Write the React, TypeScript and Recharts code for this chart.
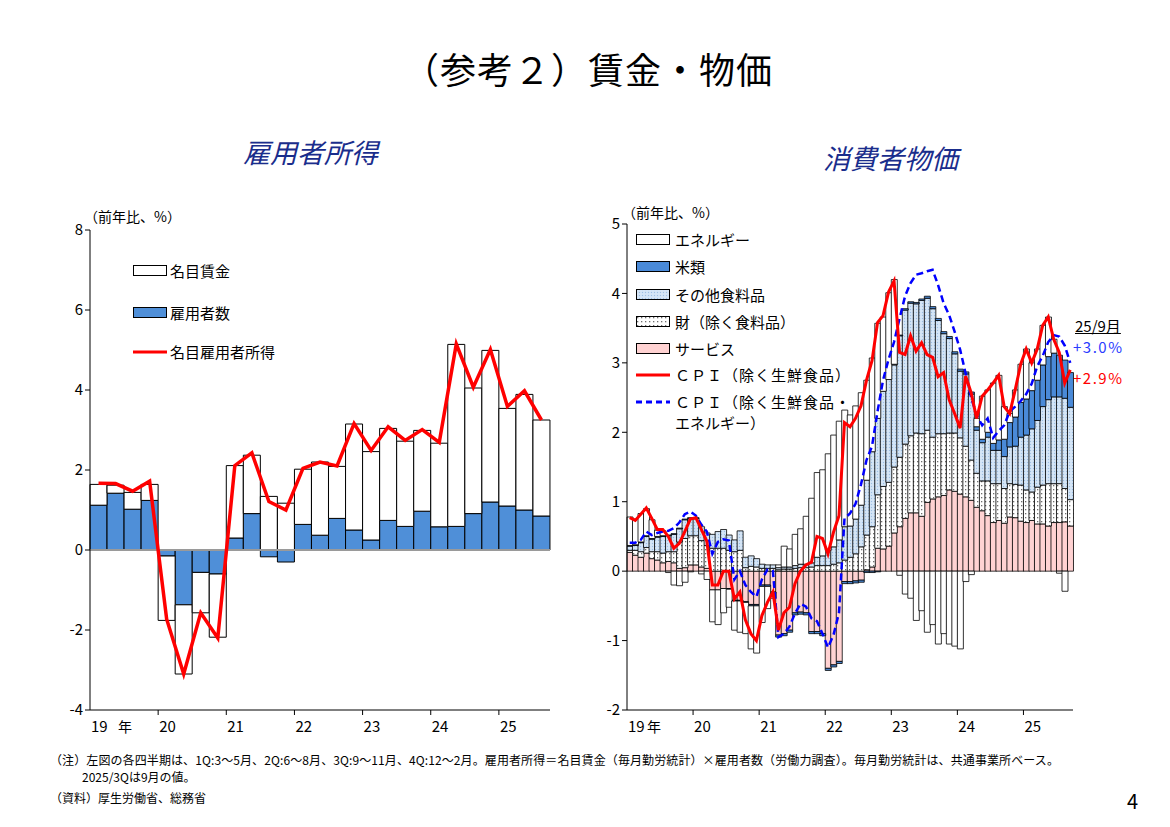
import React from 'react';
import { ComposedChart, Bar, Line, XAxis, YAxis, ReferenceLine } from 'recharts';

const FONT = '"Noto Sans CJK JP", "Noto Sans", sans-serif';

// ---------- 雇用者所得 (quarterly) ----------
const quarters = [
  '19/1Q', '19/2Q', '19/3Q', '19/4Q',
  '20/1Q', '20/2Q', '20/3Q', '20/4Q',
  '21/1Q', '21/2Q', '21/3Q', '21/4Q',
  '22/1Q', '22/2Q', '22/3Q', '22/4Q',
  '23/1Q', '23/2Q', '23/3Q', '23/4Q',
  '24/1Q', '24/2Q', '24/3Q', '24/4Q',
  '25/1Q', '25/2Q', '25/3Q',
];
// 雇用者数
const employees = [
  1.12, 1.42, 1.02, 1.24, -0.15, -1.37, -0.56, -0.6, 0.3, 0.91, -0.17, -0.3, 0.64, 0.37,
  0.79, 0.5, 0.25, 0.74, 0.59, 0.97, 0.58, 0.59, 0.91, 1.2, 1.1, 1.0, 0.85,
];
// 名目賃金
const wages = [
  0.52, 0.2, 0.42, 0.4, -1.61, -1.73, -1.01, -1.58, 1.81, 1.46, 1.34, 1.17, 1.38, 1.83,
  1.3, 2.65, 2.21, 2.3, 2.13, 2.02, 2.09, 4.55, 3.14, 3.79, 2.44, 2.89, 2.4,
];
// 名目雇用者所得
const income = [
  1.67, 1.66, 1.47, 1.72, -1.73, -3.1, -1.57, -2.2, 2.11, 2.43, 1.21, 1.0, 2.04, 2.2,
  2.1, 3.16, 2.49, 3.08, 2.74, 3.01, 2.69, 5.15, 4.07, 5.01, 3.59, 3.98, 3.25,
];
const leftTicks = [-4, -2, 0, 2, 4, 6, 8];

// ---------- 消費者物価 (monthly) ----------
const months = [
  '19/01', '19/02', '19/03', '19/04', '19/05', '19/06', '19/07', '19/08', '19/09', '19/10', '19/11', '19/12',
  '20/01', '20/02', '20/03', '20/04', '20/05', '20/06', '20/07', '20/08', '20/09', '20/10', '20/11', '20/12',
  '21/01', '21/02', '21/03', '21/04', '21/05', '21/06', '21/07', '21/08', '21/09', '21/10', '21/11', '21/12',
  '22/01', '22/02', '22/03', '22/04', '22/05', '22/06', '22/07', '22/08', '22/09', '22/10', '22/11', '22/12',
  '23/01', '23/02', '23/03', '23/04', '23/05', '23/06', '23/07', '23/08', '23/09', '23/10', '23/11', '23/12',
  '24/01', '24/02', '24/03', '24/04', '24/05', '24/06', '24/07', '24/08', '24/09', '24/10', '24/11', '24/12',
  '25/01', '25/02', '25/03', '25/04', '25/05', '25/06', '25/07', '25/08', '25/09',
];
// サービス
const services = [
  0.27, 0.23, 0.2, 0.26, 0.18, 0.16, 0.12, 0.14, 0.12, 0.04, 0.05, 0.09,
  0.09, 0.06, 0.04, -0.27, -0.27, -0.25, -0.25, -0.42, -0.42, -0.44, -0.48, -0.48,
  -0.2, -0.2, -0.3, -0.92, -0.9, -0.85, -0.6, -0.59, -0.6, -0.87, -0.87, -0.9,
  -1.4, -1.35, -1.3, -0.15, -0.15, -0.14, -0.13, 0.02, 0.06, 0.33, 0.32, 0.36,
  0.55, 0.64, 0.76, 0.84, 0.84, 0.79, 0.99, 1.04, 1.07, 1.09, 1.17, 1.15,
  1.11, 1.07, 1.02, 0.92, 0.87, 0.8, 0.7, 0.73, 0.69, 0.78, 0.77, 0.72,
  0.7, 0.73, 0.68, 0.68, 0.65, 0.7, 0.7, 0.71, 0.65,
];
// 財（除く食料品）
const goods = [
  0.03, 0.07, 0.08, 0.08, 0.1, 0.12, 0.14, 0.14, 0.16, 0.38, 0.42, 0.42,
  0.42, 0.38, 0.33, 0.33, 0.33, 0.33, 0.3, 0.28, 0.3, 0.05, 0.07, 0.06,
  0.04, 0.04, 0.04, 0.02, 0.03, 0.03, 0.04, 0.05, 0.05, 0.06, 0.08, 0.08,
  0.08, 0.1, 0.12, 0.16, 0.2, 0.25, 0.35, 0.5, 0.58, 0.77, 0.9, 0.92,
  0.95, 1.0, 1.07, 1.11, 1.15, 1.19, 1.04, 0.89, 0.91, 0.89, 0.82, 0.84,
  0.81, 0.73, 0.58, 0.49, 0.43, 0.5, 0.56, 0.53, 0.5, 0.48, 0.48, 0.52,
  0.47, 0.41, 0.53, 0.56, 0.61, 0.56, 0.56, 0.48, 0.38,
];
// その他食料品
const otherFood = [
  0.06, 0.07, 0.13, 0.16, 0.18, 0.21, 0.24, 0.23, 0.25, 0.19, 0.27, 0.25,
  0.25, 0.2, 0.18, 0.2, 0.24, 0.27, 0.22, 0.17, 0.28, 0.15, 0.15, 0.12,
  0.06, 0.05, 0.05, 0.03, 0.03, 0.03, 0.04, 0.05, 0.05, 0.06, 0.12, 0.14,
  0.22, 0.25, 0.33, 0.48, 0.45, 0.5, 0.6, 0.79, 1.08, 1.1, 1.37, 1.48,
  1.47, 1.75, 1.93, 1.91, 1.86, 1.92, 1.9, 1.85, 1.63, 1.44, 1.36, 1.14,
  0.96, 1.04, 0.95, 0.62, 0.55, 0.63, 0.48, 0.48, 0.46, 0.53, 0.55, 0.69,
  0.79, 0.91, 0.96, 1.13, 1.21, 1.25, 1.25, 1.3, 1.33,
];
// 米類
const rice = [
  0.01, 0.01, 0.01, 0.01, 0.01, 0.01, 0.01, 0.01, 0.01, 0.01, 0.01, 0.01,
  0.01, 0, 0, 0, 0, 0, -0.01, -0.01, -0.01, -0.01, -0.02, -0.02,
  -0.02, -0.02, -0.02, -0.03, -0.03, -0.03, -0.03, -0.03, -0.03, -0.03, -0.03, -0.03,
  -0.03, -0.03, -0.03, -0.03, -0.03, -0.03, -0.03, -0.02, -0.02, -0.01, 0, 0,
  0.01, 0.01, 0.02, 0.02, 0.02, 0.02, 0.03, 0.03, 0.03, 0.03, 0.03, 0.03,
  0.03, 0.03, 0.03, 0.05, 0.05, 0.07, 0.1, 0.15, 0.25, 0.35, 0.42, 0.5,
  0.52, 0.55, 0.58, 0.6, 0.62, 0.63, 0.6, 0.55, 0.5,
];
// エネルギー
const energy = [
  0.41, 0.37, 0.41, 0.39, 0.27, 0.09, 0.07, -0.02, -0.2, -0.21, -0.16, -0.01,
  0.0, -0.04, -0.12, -0.46, -0.5, -0.35, -0.26, -0.42, -0.45, -0.45, -0.62, -0.68,
  -0.52, -0.32, -0.07, 0.04, 0.3, 0.26, 0.45, 0.51, 0.69, 0.93, 1.22, 1.24,
  1.39, 1.61, 1.71, 1.68, 1.6, 1.63, 1.62, 1.44, 1.35, 1.37, 1.07, 1.25,
  1.22, -0.06, -0.33, -0.39, -0.71, -0.57, -0.88, -0.77, -1.05, -0.9, -1.05, -1.08,
  -1.12, -0.15, -0.05, 0.12, 0.62, 0.61, 0.87, 0.93, 0.47, 0.13, 0.39, 0.55,
  0.72, 0.4, 0.45, 0.57, 0.57, 0.2, -0.03, -0.29, 0.0,
];
// ＣＰＩ（除く生鮮食品）
const cpiCore = [
  0.77, 0.73, 0.82, 0.91, 0.76, 0.6, 0.6, 0.5, 0.33, 0.4, 0.57, 0.75,
  0.77, 0.6, 0.43, -0.2, -0.2, 0.0, 0.0, -0.4, -0.3, -0.7, -0.9, -1.0,
  -0.64, -0.45, -0.3, -0.85, -0.6, -0.52, -0.18, 0.0, 0.09, 0.13, 0.5, 0.47,
  0.25, 0.56, 0.8, 2.14, 2.08, 2.2, 2.38, 2.75, 3.03, 3.58, 3.68, 4.02,
  4.18, 3.15, 3.12, 3.39, 3.17, 3.29, 3.12, 3.08, 2.8, 2.86, 2.47, 2.27,
  2.06, 2.81, 2.57, 2.2, 2.52, 2.61, 2.71, 2.82, 2.37, 2.27, 2.61, 2.98,
  3.2, 3.0, 3.2, 3.54, 3.66, 3.34, 3.15, 2.71, 2.9,
];
// ＣＰＩ（除く生鮮食品・エネルギー）
const cpiCoreCore = [
  0.41, 0.41, 0.45, 0.57, 0.52, 0.55, 0.57, 0.58, 0.62, 0.7, 0.82, 0.86,
  0.8, 0.67, 0.57, 0.25, 0.42, 0.46, 0.44, -0.12, 0.0, -0.2, -0.3, -0.37,
  -0.12, 0.02, 0.0, -0.95, -0.9, -0.8, -0.61, -0.47, -0.51, -0.68, -0.72, -0.9,
  -1.1, -0.92, -0.6, 0.76, 0.83, 0.97, 1.25, 1.6, 1.8, 2.3, 2.75, 3.05,
  3.3, 3.64, 3.96, 4.15, 4.27, 4.29, 4.32, 4.34, 4.12, 3.86, 3.69, 3.45,
  3.19, 2.85, 2.5, 2.25, 2.1, 2.2, 1.92, 2.02, 2.1, 2.3, 2.37, 2.45,
  2.55, 2.7, 2.95, 3.1, 3.3, 3.4, 3.38, 3.25, 3.0,
];
const rightTicks = [-2, -1, 0, 1, 2, 3, 4, 5];

const incomeData = quarters.map((q, i) => ({
  q,
  employees: employees[i],
  wages: wages[i],
  income: income[i],
}));

const cpiData = months.map((m, i) => ({
  m,
  services: services[i],
  goods: goods[i],
  otherFood: otherFood[i],
  rice: rice[i],
  energy: energy[i],
  cpiCore: cpiCore[i],
  cpiCoreCore: cpiCoreCore[i],
}));

const makeYearTick = (isStart: (v: string) => boolean, bandHalf: number, nenGap: number) =>
  (props: any) => {
    const { x, y, payload, index } = props;
    const label: string = payload.value;
    if (!isStart(label)) return <g />;
    const half = payload.offset != null ? payload.offset : bandHalf;
    const bx = x - half;
    const yr = label.slice(0, 2);
    return (
      <g>
        {index !== 0 && <line x1={bx} x2={bx} y1={y} y2={y + 5} stroke="#000" strokeWidth={1} />}
        <text x={bx + 1} y={y + 22} fontSize={15} fontFamily={FONT} fill="#000" textAnchor="start">
          {yr}
        </text>
        {index === 0 && (
          <text x={bx + nenGap} y={y + 22} fontSize={14} fontFamily={FONT} fill="#000">
            年
          </text>
        )}
      </g>
    );
  };

const LeftTick = makeYearTick((v) => v.endsWith('1Q'), 460 / 27 / 2, 28);
const RightTick = makeYearTick((v) => v.endsWith('/01'), 446 / 81 / 2, 20);

const abs = (left: number, top: number): React.CSSProperties => ({
  position: 'absolute',
  left,
  top,
  whiteSpace: 'nowrap',
});

const Swatch = ({ fill }: { fill: string }) => (
  <svg width={34} height={12} style={{ display: 'block' }}>
    <rect x={0.5} y={0.5} width={33} height={10} fill={fill} stroke="#000" strokeWidth={1} />
  </svg>
);

const LineSwatch = ({ color, dash }: { color: string; dash?: string }) => (
  <svg width={34} height={8} style={{ display: 'block' }}>
    <line x1={0} x2={34} y1={4} y2={4} stroke={color} strokeWidth={3} strokeDasharray={dash} />
  </svg>
);

export default function App() {
  const legendText: React.CSSProperties = { fontSize: 15, fontFamily: FONT, color: '#000' };
  return (
    <div
      style={{
        position: 'absolute',
        left: 0,
        top: 0,
        width: 1170,
        height: 827,
        background: '#fff',
        fontFamily: FONT,
        overflow: 'hidden',
      }}
    >
      <svg width={0} height={0} style={{ position: 'absolute' }}>
        <defs>
          <pattern id="dotFill" width={4} height={4} patternUnits="userSpaceOnUse">
            <rect width={4} height={4} fill="#ffffff" />
            <rect x={1} y={1} width={1.3} height={1.3} fill="#6e6e6e" />
          </pattern>
          <pattern id="foodFill" width={3} height={3} patternUnits="userSpaceOnUse">
            <rect width={3} height={3} fill="#cfe2f5" />
            <rect x={0} y={0} width={1} height={1} fill="#9fbfe3" />
            <rect x={1.5} y={1.5} width={1} height={1} fill="#e8f1fb" />
          </pattern>
        </defs>
      </svg>

      {/* title */}
      <div style={{ ...abs(0, 42), width: 1176, textAlign: 'center', fontSize: 36, letterSpacing: 1 }}>
        （参考２）賃金・物価
      </div>
      <div style={{ ...abs(243, 132), fontSize: 27, fontStyle: 'italic', color: '#1a2d8c' }}>雇用者所得</div>
      <div style={{ ...abs(823, 138), fontSize: 27, fontStyle: 'italic', color: '#1a2d8c' }}>消費者物価</div>

      {/* left chart */}
      <div style={abs(0, 0)}>
        <ComposedChart
          width={580}
          height={760}
          data={incomeData}
          margin={{ top: 230, right: 30, bottom: 30, left: 60 }}
          stackOffset="sign"
          barCategoryGap={0}
          barGap={0}
        >
          <XAxis
            dataKey="q"
            interval={0}
            tickSize={0}
            tickMargin={0}
            height={20}
            tick={LeftTick}
            axisLine={{ stroke: '#000', strokeWidth: 1 }}
          />
          <YAxis
            domain={[-4, 8]}
            ticks={leftTicks}
            width={30}
            tickSize={5}
            tick={{ fontSize: 15, fill: '#000', fontFamily: FONT }}
            axisLine={{ stroke: '#000' }}
            tickLine={{ stroke: '#000' }}
            allowDataOverflow
          />
          <Bar dataKey="employees" stackId="s" fill="#4f8fd8" stroke="#000" strokeWidth={1} isAnimationActive={false} />
          <Bar dataKey="wages" stackId="s" fill="#ffffff" stroke="#000" strokeWidth={1} isAnimationActive={false} />
          <ReferenceLine y={0} stroke="#9a9a9a" strokeWidth={2} />
          <Line
            dataKey="income"
            type="linear"
            stroke="#ff0000"
            strokeWidth={3.5}
            dot={false}
            isAnimationActive={false}
          />
        </ComposedChart>
      </div>
      <div style={{ ...abs(84, 206), fontSize: 14 }}>（前年比、%）</div>

      {/* left legend */}
      <div style={{ ...abs(133, 260), display: 'flex', alignItems: 'center', gap: 3 }}>
        <Swatch fill="#ffffff" />
        <span style={legendText}>名目賃金</span>
      </div>
      <div style={{ ...abs(133, 302), display: 'flex', alignItems: 'center', gap: 3 }}>
        <Swatch fill="#4f8fd8" />
        <span style={legendText}>雇用者数</span>
      </div>
      <div style={{ ...abs(133, 341), display: 'flex', alignItems: 'center', gap: 3 }}>
        <LineSwatch color="#ff0000" />
        <span style={legendText}>名目雇用者所得</span>
      </div>

      {/* right chart */}
      <div style={abs(580, 0)}>
        <ComposedChart
          width={590}
          height={760}
          data={cpiData}
          margin={{ top: 224, right: 97, bottom: 30, left: 17 }}
          stackOffset="sign"
          barCategoryGap={0}
          barGap={0}
        >
          <XAxis
            dataKey="m"
            interval={0}
            tickSize={0}
            tickMargin={0}
            height={20}
            tick={RightTick}
            axisLine={{ stroke: '#000', strokeWidth: 1 }}
          />
          <YAxis
            domain={[-2, 5]}
            ticks={rightTicks}
            width={30}
            tickSize={5}
            tick={{ fontSize: 15, fill: '#000', fontFamily: FONT }}
            axisLine={{ stroke: '#000' }}
            tickLine={{ stroke: '#000' }}
            allowDataOverflow
          />
          <Bar dataKey="services" stackId="c" fill="#ffd2d2" stroke="#000" strokeWidth={0.8} isAnimationActive={false} />
          <Bar dataKey="goods" stackId="c" fill="url(#dotFill)" stroke="#000" strokeWidth={0.8} isAnimationActive={false} />
          <Bar dataKey="otherFood" stackId="c" fill="url(#foodFill)" stroke="#000" strokeWidth={0.8} isAnimationActive={false} />
          <Bar dataKey="rice" stackId="c" fill="#4a8ad8" stroke="#000" strokeWidth={0.8} isAnimationActive={false} />
          <Bar dataKey="energy" stackId="c" fill="#ffffff" stroke="#000" strokeWidth={0.8} isAnimationActive={false} />
          <Line
            dataKey="cpiCoreCore"
            type="linear"
            stroke="#0000ff"
            strokeWidth={2.5}
            strokeDasharray="7 4"
            dot={false}
            isAnimationActive={false}
          />
          <Line
            dataKey="cpiCore"
            type="linear"
            stroke="#ff0000"
            strokeWidth={3}
            dot={false}
            isAnimationActive={false}
          />
        </ComposedChart>
      </div>
      <div style={{ ...abs(622, 202), fontSize: 14 }}>（前年比、%）</div>

      {/* right legend */}
      {[
        { y: 232, fill: '#ffffff', label: 'エネルギー' },
        { y: 259, fill: '#4a8ad8', label: '米類' },
        { y: 287, fill: 'url(#foodFill)', label: 'その他食料品' },
        { y: 314, fill: 'url(#dotFill)', label: '財（除く食料品）' },
        { y: 341, fill: '#ffd2d2', label: 'サービス' },
      ].map((d) => (
        <div key={d.label} style={{ ...abs(636, d.y - 3), display: 'flex', alignItems: 'center', gap: 5 }}>
          <Swatch fill={d.fill} />
          <span style={legendText}>{d.label}</span>
        </div>
      ))}
      <div style={{ ...abs(636, 364), display: 'flex', alignItems: 'center', gap: 5 }}>
        <LineSwatch color="#ff0000" />
        <span style={{ ...legendText, letterSpacing: 1 }}>ＣＰＩ（除く生鮮食品）</span>
      </div>
      <div style={{ ...abs(636, 391), display: 'flex', alignItems: 'center', gap: 5 }}>
        <LineSwatch color="#0000ff" dash="6 4" />
        <span style={{ ...legendText, letterSpacing: 1 }}>ＣＰＩ（除く生鮮食品・</span>
      </div>
      <div style={{ ...abs(675, 412), ...legendText }}>エネルギー）</div>

      {/* annotation */}
      <div style={{ ...abs(1075, 315), fontSize: 15, textDecoration: 'underline' }}>25/9月</div>
      <div style={{ ...abs(1073, 336), fontSize: 15, color: '#2a3bff', letterSpacing: 1.5 }}>+3.0%</div>
      <div style={{ ...abs(1073, 367), fontSize: 15, color: '#ff0000', letterSpacing: 1.5 }}>+2.9%</div>

      {/* notes */}
      <div style={{ ...abs(50, 751), fontSize: 12, letterSpacing: 0.1 }}>
        （注）左図の各四半期は、1Q:3～5月、2Q:6～8月、3Q:9～11月、4Q:12～2月。雇用者所得＝名目賃金（毎月勤労統計）×雇用者数（労働力調査）。毎月勤労統計は、共通事業所ベース。
      </div>
      <div style={{ ...abs(82, 768), fontSize: 12 }}>2025/3Qは9月の値。</div>
      <div style={{ ...abs(50, 789), fontSize: 12 }}>（資料）厚生労働省、総務省</div>
      <div style={{ ...abs(1127, 786), fontSize: 20 }}>4</div>
    </div>
  );
}
